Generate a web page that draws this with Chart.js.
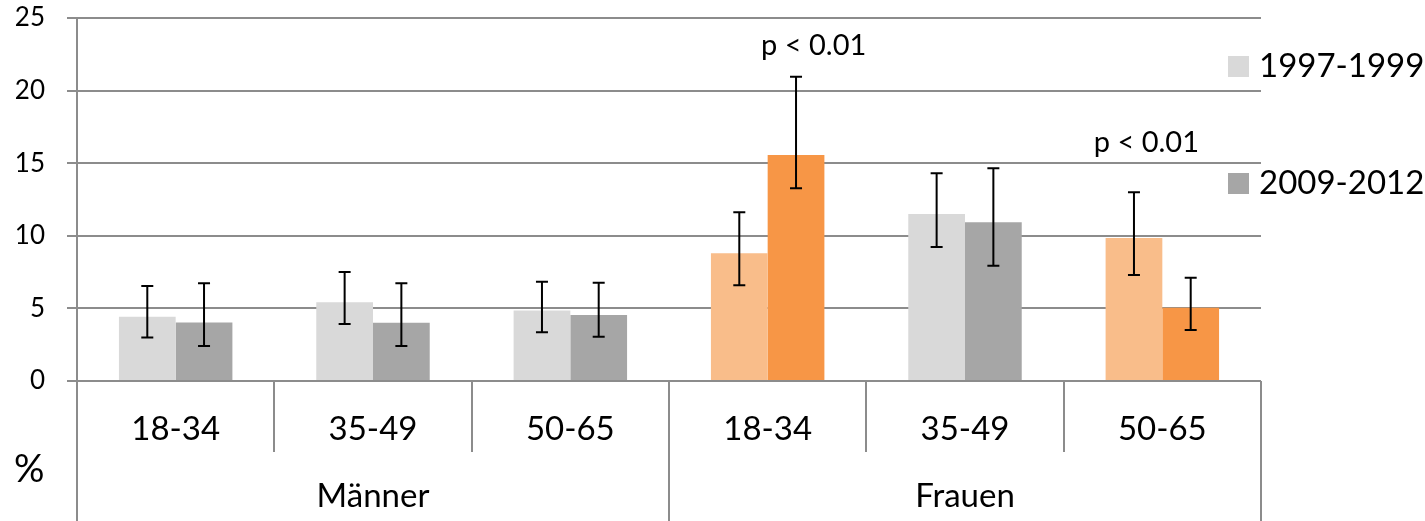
<!DOCTYPE html>
<html>
<head>
<meta charset="utf-8">
<script src="https://cdn.jsdelivr.net/npm/chart.js"></script>
<style>
  body { margin: 0; background: #fff; }
  #wrap { width: 1425px; height: 521px; }
</style>
</head>
<body>
<div id="wrap"><canvas id="chart" width="1425" height="521"></canvas></div>
<script>
// data
const ageGroups = ["18-34", "35-49", "50-65", "18-34", "35-49", "50-65"];
const sexGroups = ["Männer", "Frauen"];
const periods = ["1997-1999", "2009-2012"];

const val1997 = [4.43, 5.42, 4.85, 8.8, 11.5, 9.85];
const low1997 = [3.0, 3.93, 3.35, 6.6, 9.23, 7.3];
const high1997 = [6.54, 7.5, 6.84, 11.62, 14.3, 13.0];

const val2009 = [4.03, 4.02, 4.55, 15.56, 10.93, 5.05];
const low2009 = [2.41, 2.41, 3.05, 13.27, 7.94, 3.51];
const high2009 = [6.73, 6.73, 6.77, 20.96, 14.65, 7.11];

const noteText = ["p < 0.01", "p < 0.01"];
const noteIndex = [3, 5];
const noteValue = [23.1, 16.4];

const gridColor = "#8c8c8c";
const font = "Lato";

const colors1997 = ["#d9d9d9", "#d9d9d9", "#d9d9d9", "#f9bd8a", "#d9d9d9", "#f9bd8a"];
const colors2009 = ["#a6a6a6", "#a6a6a6", "#a6a6a6", "#f79646", "#a6a6a6", "#f79646"];

// error bars
const errorBars = {
  id: "errorBars",
  afterDatasetsDraw(chart) {
    const ctx = chart.ctx;
    const y = chart.scales.y;
    const ranges = [[low1997, high1997], [low2009, high2009]];
    ctx.save();
    ctx.strokeStyle = "#000";
    ctx.lineWidth = 2;
    ranges.forEach((r, di) => {
      chart.getDatasetMeta(di).data.forEach((bar, i) => {
        const yl = y.getPixelForValue(r[0][i]);
        const yh = y.getPixelForValue(r[1][i]);
        ctx.beginPath();
        ctx.moveTo(bar.x, yh); ctx.lineTo(bar.x, yl);
        ctx.moveTo(bar.x - 6, yh); ctx.lineTo(bar.x + 6, yh);
        ctx.moveTo(bar.x - 6, yl); ctx.lineTo(bar.x + 6, yl);
        ctx.stroke();
      });
    });
    ctx.restore();
  }
};

// p-value notes, legend and % label
const extras = {
  id: "extras",
  afterDraw(chart) {
    const ctx = chart.ctx;
    const { x, y } = chart.scales;
    const area = chart.chartArea;
    const noteShift = [46, -16];
    ctx.save();
    ctx.fillStyle = "#000";
    ctx.textBaseline = "middle";

    ctx.font = "29px " + font;
    ctx.textAlign = "center";
    noteText.forEach((t, k) => {
      ctx.fillText(t, x.getPixelForValue(noteIndex[k]) + noteShift[k], y.getPixelForValue(noteValue[k]));
    });

    // legend
    ctx.font = "33px " + font;
    ctx.textAlign = "left";
    const legendY = [66, 183];
    periods.forEach((p, k) => {
      const col = chart.data.datasets[k].backgroundColor[0];
      ctx.fillStyle = col;
      ctx.fillRect(area.right - 33, legendY[k] - 10, 21, 21);
      ctx.fillStyle = "#000";
      ctx.fillText(p, area.right - 2, legendY[k]);
    });

    ctx.font = "38px " + font;
    ctx.fillText("%", 14, 470);
    ctx.restore();
  }
};

function draw() {
  new Chart(document.getElementById("chart"), {
    type: "bar",
    data: {
      labels: ageGroups,
      datasets: [
        { label: periods[0], data: val1997, backgroundColor: colors1997, borderWidth: 0 },
        { label: periods[1], data: val2009, backgroundColor: colors2009, borderWidth: 0 }
      ]
    },
    plugins: [errorBars, extras],
    options: {
      responsive: false,
      animation: false,
      devicePixelRatio: 1,
      categoryPercentage: 0.575,
      barPercentage: 1,
      layout: { padding: { top: 18, right: 164, left: 0, bottom: 0 } },
      plugins: {
        legend: { display: false },
        tooltip: { enabled: false }
      },
      scales: {
        y: {
          min: 0,
          max: 25,
          ticks: { stepSize: 5, color: "#000", font: { family: font, size: 26 }, padding: 22 },
          grid: { color: gridColor, lineWidth: 2, tickLength: 10 },
          border: { display: true, color: gridColor, width: 2 },
          afterFit: s => { s.width = 77; s.paddingTop = 0; s.paddingBottom = 0; }
        },
        x: {
          offset: true,
          grid: { offset: true, drawOnChartArea: false, tickLength: 71, color: gridColor, lineWidth: 2 },
          border: { display: false },
          ticks: { color: "#000", font: { family: font, size: 33 }, padding: -42, maxRotation: 0, autoSkip: false },
          afterFit: s => { s.height = 71; }
        },
        x2: {
          type: "category",
          labels: sexGroups,
          position: "bottom",
          offset: true,
          grid: { offset: true, drawOnChartArea: false, tickLength: 69, color: gridColor, lineWidth: 2 },
          border: { display: false },
          ticks: { color: "#000", font: { family: font, size: 33 }, padding: -44, maxRotation: 0 },
          afterFit: s => { s.height = 69; }
        }
      }
    }
  });
}

if (document.fonts && document.fonts.load) {
  document.fonts.load("33px " + font).then(draw, draw);
} else {
  draw();
}
</script>
</body>
</html>
